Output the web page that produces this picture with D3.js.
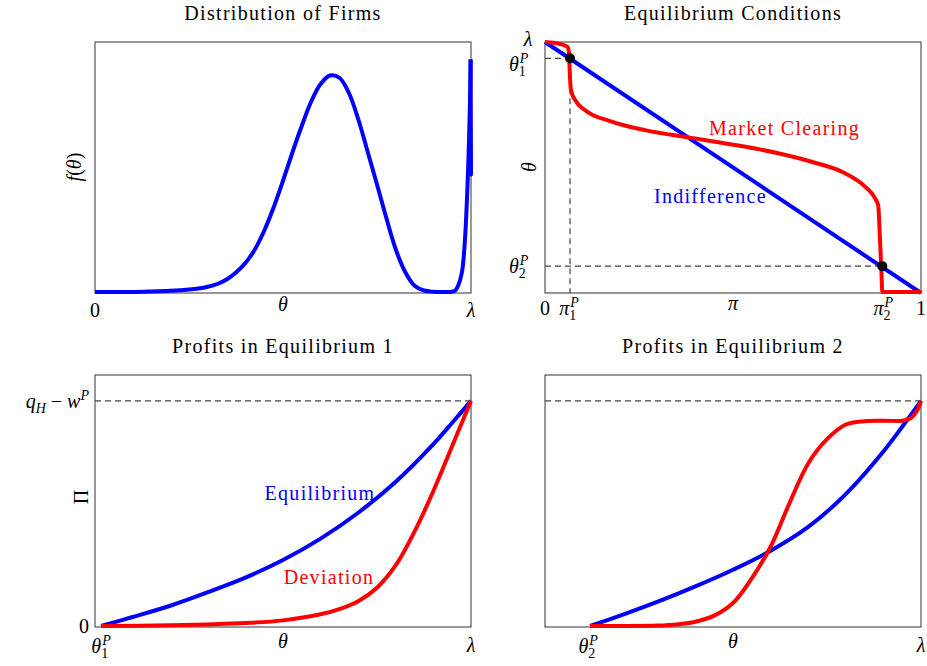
<!DOCTYPE html>
<html><head><meta charset="utf-8">
<script src="https://cdn.jsdelivr.net/npm/d3@7"></script>
<style>body{margin:0;background:#fff}svg text{font-family:"Liberation Serif",serif;}</style>
</head><body>
<svg id="c" width="927" height="666"></svg>
<script>
// ---------- DATA ----------
// Panel 1: Distribution of firms (theta normalised 0..lambda, density normalised)
const densTheta = [0,0.1,0.15,0.2,0.25,0.275,0.3,0.325,0.35,0.375,0.4,0.425,0.45,0.475,0.5,0.525,0.55,0.575,0.6,0.625,0.65,0.675,0.7,0.725,0.75,0.775,0.8,0.825,0.85,0.875,0.9,0.925,0.95,0.958,0.966,0.976,0.984,0.992,0.997,0.999];
const densF     = [0,0,0.002,0.005,0.01,0.014,0.021,0.032,0.05,0.078,0.116,0.17,0.245,0.338,0.445,0.558,0.665,0.762,0.832,0.866,0.857,0.797,0.692,0.562,0.43,0.295,0.17,0.08,0.025,0.006,0.001,0,0.001,0.006,0.026,0.08,0.211,0.478,0.741,0.93];
const densSpikeTheta = [0.999,1.0,0.999,1.0];
const densSpikeF     = [0.93,0.47,0.9,0.47];
// Panel 2: Equilibrium conditions
const indiffPi = [0,1];
const indiffTheta = [1,0];
const clearPi    = [0,0.04,0.06,0.064,0.066,0.069,0.08,0.106,0.177,0.266,0.381,0.488,0.620,0.709,0.798,0.851,0.878,0.886,0.891,0.895,0.897,1.0];
const clearTheta = [1,0.992,0.981,0.955,0.875,0.809,0.769,0.729,0.683,0.649,0.620,0.594,0.557,0.523,0.477,0.424,0.377,0.351,0.211,0.078,0.004,0.004];
const eqPi    = [0.0665,0.897];
const eqTheta = [0.935,0.107];
// Panel 3: Profits in equilibrium 1 (profit normalised to q_H - w^P = 1)
const p1Theta = [0.016,0.1,0.2,0.3,0.4,0.5,0.6,0.7,0.8,0.9,0.95,1.0];
const p1Equil = [0,0.04,0.09,0.15,0.215,0.293,0.388,0.503,0.641,0.808,0.903,1.0];
const p1DevTheta = [0.016,0.2,0.3,0.4,0.5,0.6,0.65,0.7,0.75,0.8,0.85,0.9,0.95,1.0];
const p1Dev      = [0,0.003,0.007,0.013,0.025,0.052,0.075,0.11,0.17,0.27,0.42,0.60,0.80,1.0];
// Panel 4: Profits in equilibrium 2
const p2Theta = [0.12,0.2,0.3,0.4,0.5,0.6,0.7,0.8,0.9,0.95,1.0];
const p2Equil = [0,0.046,0.108,0.176,0.25,0.334,0.44,0.586,0.775,0.885,1.0];
const p2DevTheta = [0.12,0.2,0.3,0.35,0.4,0.45,0.5,0.55,0.6,0.65,0.7,0.75,0.8,0.85,0.9,0.95,0.975,0.99,1.0];
const p2Dev      = [0,0,0.002,0.007,0.019,0.046,0.102,0.212,0.352,0.545,0.722,0.83,0.895,0.91,0.912,0.912,0.926,0.958,1.0];
const p1Tick = 0.016, p2Tick = 0.12;
const titles = ["Distribution of Firms","Equilibrium Conditions","Profits in Equilibrium 1","Profits in Equilibrium 2"];
const profitTop = 1.115; // frame top relative to q_H - w^P

// ---------- DRAW ----------
const svg = d3.select("#c");
const BLUE="#0000ff", RED="#ff0000";
const panels = [
  {x0:95,x1:471,y0:42,y1:293},
  {x0:545,x1:921,y0:42,y1:293},
  {x0:95,x1:471,y0:375,y1:627},
  {x0:545,x1:921,y0:375,y1:627}
];
const FS = 20, LS = 1.3, SFS = 14;
const SMOOTH = d3.curveCatmullRom.alpha(0.5);

function txt(x,y,s,color){
  return svg.append("text").attr("x",x).attr("y",y).attr("text-anchor","middle")
    .attr("font-size",FS).attr("letter-spacing",LS).attr("fill",color||"#000").text(s);
}
function frame(p){
  svg.append("rect").attr("x",p.x0).attr("y",p.y0).attr("width",p.x1-p.x0).attr("height",p.y1-p.y0)
    .attr("fill","none").attr("stroke","#333").attr("stroke-width",1);
}
function title(p,t){ txt((p.x0+p.x1)/2, p.y0-22, t); }
// math label
function mlabel(x,y,parts,anchor,rot){
  const t = svg.append("text").attr("x",x).attr("y",y).attr("text-anchor",anchor||"middle").attr("font-size",FS);
  if(rot) t.attr("transform",`rotate(-90,${x},${y})`);
  let cur = 0, prev = null, prevSt = "";
  parts.forEach(([s,st])=>{
    const ts = t.append("tspan").text(s);
    let dy = 0;
    if(st.includes("sub")){ dy = 5 - cur; cur = 5; ts.attr("font-size",SFS); }
    else if(st.includes("sup")){ dy = -8 - cur; cur = -8; ts.attr("font-size",SFS);
      if(prevSt.includes("sub") && prev) ts.attr("dx", -prev.node().getComputedTextLength()+1);
    }
    else { dy = -cur; cur = 0; }
    if(dy) ts.attr("dy",dy);
    if(st.includes("i")) ts.attr("font-style","italic");
    prev = ts; prevSt = st;
  });
  return t;
}
function path(data,x,y,color,curve){
  svg.append("path").datum(data).attr("fill","none").attr("stroke",color).attr("stroke-width",4)
    .attr("stroke-linejoin","round")
    .attr("d",d3.line().x(d=>x(d[0])).y(d=>y(d[1])).curve(curve||SMOOTH));
}
const zip=(a,b)=>a.map((v,i)=>[v,b[i]]);
const dashLine=(x1,y1,x2,y2)=>svg.append("line").attr("x1",x1).attr("y1",y1).attr("x2",x2).attr("y2",y2)
     .attr("stroke","#444").attr("stroke-width",1.2).attr("stroke-dasharray","6,4");

// Panel 1
{
  const p=panels[0];
  const x=d3.scaleLinear().domain([0,1]).range([p.x0,p.x1]);
  const y=d3.scaleLinear().domain([0,1]).range([p.y1-1,p.y0]);
  frame(p); title(p,titles[0]);
  path(zip(densTheta,densF),x,y,BLUE);
  path(zip(densSpikeTheta,densSpikeF),x,y,BLUE,d3.curveLinear);
  mlabel(x(0),317,[["0","r"]]);
  mlabel(x(0.5),311,[["θ","i"]]);
  mlabel(x(1),317,[["λ","i"]]);
  mlabel(81,167,[["f","i"],["(","r"],["θ","i"],[")","r"]],"middle",true);
}
// Panel 2
{
  const p=panels[1];
  const x=d3.scaleLinear().domain([0,1]).range([p.x0,p.x1]);
  const y=d3.scaleLinear().domain([0,1]).range([p.y1,p.y0]);
  frame(p); title(p,titles[1]);
  eqPi.forEach((pi,i)=>{
    dashLine(x(0),y(eqTheta[i]),x(pi),y(eqTheta[i]));
    dashLine(x(pi),y(eqTheta[i]),x(pi),y(0));
  });
  path(zip(indiffPi,indiffTheta),x,y,BLUE,d3.curveLinear);
  path(zip(clearPi,clearTheta),x,y,RED,d3.curveMonotoneX);
  svg.selectAll(".eqdot").data(eqPi).enter().append("circle")
    .attr("cx",d=>x(d)).attr("cy",(d,i)=>y(eqTheta[i])).attr("r",5).attr("fill","#000");
  txt(x(0.637),y(0.63),"Market Clearing",RED);
  txt(x(0.44),y(0.358),"Indifference",BLUE);
  mlabel(x(0)-17,46,[["λ","i"]]);
  mlabel(x(0)-36,71,[["θ","i"],["1","sub"],["P","i sup"]],"start");
  mlabel(x(0)-36,y(eqTheta[1])+7,[["θ","i"],["2","sub"],["P","i sup"]],"start");
  mlabel(x(0),315,[["0","r"]]);
  mlabel(x(eqPi[0])-1,315,[["π","i"],["1","sub"],["P","i sup"]]);
  mlabel(x(0.5),310,[["π","i"]]);
  mlabel(x(eqPi[1])+1,315,[["π","i"],["2","sub"],["P","i sup"]]);
  mlabel(x(1),315,[["1","r"]]);
  mlabel(536,167,[["θ","i"]],"middle",true);
}
// Panel 3
{
  const p=panels[2];
  const x=d3.scaleLinear().domain([0,1]).range([p.x0,p.x1]);
  const y=d3.scaleLinear().domain([0,profitTop]).range([p.y1-1,p.y0]);
  frame(p); title(p,titles[2]);
  dashLine(x(0),y(1),x(1),y(1));
  path(zip(p1Theta,p1Equil),x,y,BLUE);
  path(zip(p1DevTheta,p1Dev),x,y,RED);
  txt(320,500,"Equilibrium",BLUE);
  txt(329,584,"Deviation",RED);
  mlabel(x(p1Tick),653,[["θ","i"],["1","sub"],["P","i sup"]]);
  mlabel(x(0.5),648,[["θ","i"]]);
  mlabel(x(1),652,[["λ","i"]]);
  mlabel(89,633,[["0","r"]],"end");
  mlabel(89,408,[["q","i"],["H","i sub"],[" − ","r"],["w","i"],["P","i sup"]],"end");
  mlabel(88,497,[["Π","r"]],"middle",true);
}
// Panel 4
{
  const p=panels[3];
  const x=d3.scaleLinear().domain([0,1]).range([p.x0,p.x1]);
  const y=d3.scaleLinear().domain([0,profitTop]).range([p.y1-1,p.y0]);
  frame(p); title(p,titles[3]);
  dashLine(x(0),y(1),x(1),y(1));
  path(zip(p2Theta,p2Equil),x,y,BLUE);
  path(zip(p2DevTheta,p2Dev),x,y,RED);
  mlabel(x(p2Tick)-2,653,[["θ","i"],["2","sub"],["P","i sup"]]);
  mlabel(x(0.5),648,[["θ","i"]]);
  mlabel(x(1),652,[["λ","i"]]);
}
</script>
</body></html>
